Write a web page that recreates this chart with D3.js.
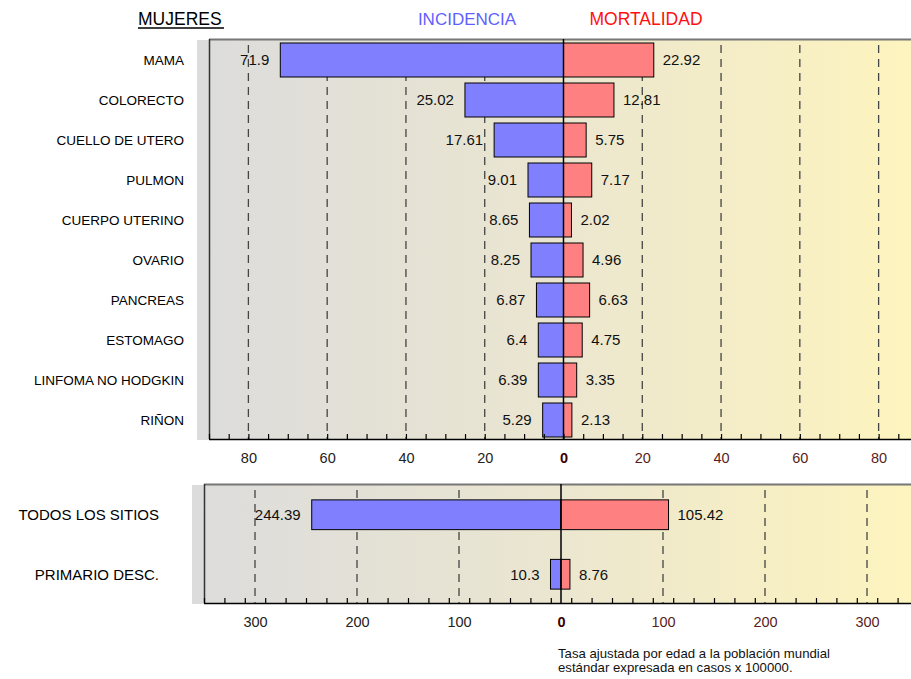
<!DOCTYPE html>
<html><head><meta charset="utf-8">
<script src="https://cdn.jsdelivr.net/npm/d3@7"></script>
<style>
html,body{margin:0;padding:0;background:#fff;}
svg{display:block;font-family:"Liberation Sans",Arial,sans-serif;}
</style></head>
<body>
<svg id="chart" width="911" height="679"></svg>
<script>
// ---- data ----
const sitesTop = ["MAMA","COLORECTO","CUELLO DE UTERO","PULMON","CUERPO UTERINO","OVARIO","PANCREAS","ESTOMAGO","LINFOMA NO HODGKIN","RIÑON"];
const incidenceTop = [71.9,25.02,17.61,9.01,8.65,8.25,6.87,6.4,6.39,5.29];
const mortalityTop = [22.92,12.81,5.75,7.17,2.02,4.96,6.63,4.75,3.35,2.13];
const sitesBottom = ["TODOS LOS SITIOS","PRIMARIO DESC."];
const incidenceBottom = [244.39,10.3];
const mortalityBottom = [105.42,8.76];
const ticksTop = [-80,-60,-40,-20,0,20,40,60,80];
const ticksBottom = [-300,-200,-100,0,100,200,300];
const title = "MUJERES", incLabel = "INCIDENCIA", morLabel = "MORTALIDAD";
const note = ["Tasa ajustada por edad a la población mundial","estándar expresada en casos x 100000."];

const svg = d3.select("#chart");
const defs = svg.append("defs");
const grad = defs.append("linearGradient").attr("id","bg").attr("x1","0").attr("x2","1").attr("y1","0").attr("y2","0");
grad.append("stop").attr("offset","0").attr("stop-color","#dcdcdc");
grad.append("stop").attr("offset","0.5").attr("stop-color","#ebe6d0");
grad.append("stop").attr("offset","1").attr("stop-color","#fdf4be");

function panel(cfg){
  const {sites, inc, mor, ticks, xDom, xRange, yRange, pad, minorStep, labelX, labelSize, valSize} = cfg;
  const x = d3.scaleLinear().domain(xDom).range(xRange);
  const y = d3.scaleBand().domain(sites).range(yRange).paddingInner(pad).paddingOuter(pad/2);
  const top = yRange[0]-1, bot = yRange[1]-1, left = xRange[0];
  const g = svg.append("g");
  g.append("rect").attr("x",left-12).attr("y",top+1).attr("width",911-(left-12)).attr("height",bot-top-1).attr("fill","url(#bg)");
  g.append("rect").attr("x",left-12).attr("y",top+1).attr("width",12).attr("height",bot-top).attr("fill","#dcdcdc");
  g.selectAll("line.grid").data(ticks.filter(t=>t!==0)).enter().append("line")
    .attr("x1",d=>x(d)).attr("x2",d=>x(d)).attr("y1",top+6).attr("y2",bot)
    .attr("stroke","#444").attr("stroke-width",1.3).attr("stroke-dasharray","8,6");
  g.append("line").attr("x1",left).attr("x2",911).attr("y1",top+0.5).attr("y2",top+0.5).attr("stroke","#777").attr("stroke-width",2);
  g.append("line").attr("x1",left+0.5).attr("x2",left+0.5).attr("y1",top).attr("y2",bot).attr("stroke","#333").attr("stroke-width",1.5);
  const h = y.bandwidth();
  g.selectAll("rect.inc").data(sites).enter().append("rect")
    .attr("x",(d,i)=>x(-inc[i])).attr("y",d=>y(d)).attr("width",(d,i)=>x(0)-x(-inc[i])).attr("height",h)
    .attr("fill","#8080ff").attr("stroke","#000").attr("stroke-width",1);
  g.selectAll("rect.mor").data(sites).enter().append("rect")
    .attr("x",x(0)).attr("y",d=>y(d)).attr("width",(d,i)=>x(mor[i])-x(0)).attr("height",h)
    .attr("fill","#ff8080").attr("stroke","#000").attr("stroke-width",1);
  g.append("line").attr("x1",x(0)).attr("x2",x(0)).attr("y1",top).attr("y2",bot).attr("stroke","#000").attr("stroke-width",1.5);
  g.selectAll("text.vi").data(sites).enter().append("text")
    .attr("x",(d,i)=>x(-inc[i])-11).attr("y",d=>y(d)+h/2).attr("dy","0.35em")
    .attr("text-anchor","end").attr("font-size",valSize).attr("fill","#111").text((d,i)=>inc[i]);
  g.selectAll("text.vm").data(sites).enter().append("text")
    .attr("x",(d,i)=>x(mor[i])+9).attr("y",d=>y(d)+h/2).attr("dy","0.35em")
    .attr("text-anchor","start").attr("font-size",valSize).attr("fill","#111").text((d,i)=>mor[i]);
  g.selectAll("text.cat").data(sites).enter().append("text")
    .attr("x",labelX).attr("y",d=>y(d)+h/2).attr("dy","0.35em")
    .attr("text-anchor","end").attr("font-size",labelSize).attr("fill","#000").text(d=>d);
  const minor = d3.range(xDom[0], xDom[1]+0.001, minorStep);
  const ax = g.append("g").attr("transform",`translate(0,${bot})`)
    .call(d3.axisBottom(x).tickValues(minor).tickSize(-5).tickFormat(""));
  ax.select(".domain").remove();
  ax.selectAll(".tick line").attr("stroke","#000").attr("stroke-width",1.2);
  g.append("line").attr("x1",left).attr("x2",911).attr("y1",bot+0.5).attr("y2",bot+0.5).attr("stroke","#000").attr("stroke-width",1.5);
  const lab = g.append("g").attr("transform",`translate(0,${bot})`)
    .call(d3.axisBottom(x).tickValues(ticks).tickSize(0).tickPadding(14).tickFormat(d=>Math.abs(d)));
  lab.select(".domain").remove();
  lab.selectAll(".tick text").attr("font-size",14.5).attr("font-family","Liberation Sans, Arial, sans-serif")
    .attr("fill",d=>d<0?"#222":(d===0?"#3a0000":"#5a1c1c")).attr("font-weight",d=>d===0?"bold":"normal");
  return {x,y};
}

panel({sites:sitesTop, inc:incidenceTop, mor:mortalityTop, ticks:ticksTop,
  xDom:[-90,90], xRange:[209,918], yRange:[40,440], pad:0.15, minorStep:5,
  labelX:184, labelSize:13.5, valSize:15});
panel({sites:sitesBottom, inc:incidenceBottom, mor:mortalityBottom, ticks:ticksBottom,
  xDom:[-350,350], xRange:[204,918], yRange:[485,604], pad:0.5, minorStep:20,
  labelX:159, labelSize:15, valSize:15});

svg.append("text").attr("x",138).attr("y",25).attr("font-size",17.5).attr("fill","#000").text(title);
svg.append("line").attr("x1",138).attr("x2",224).attr("y1",28).attr("y2",28).attr("stroke","#000").attr("stroke-width",1.5);
svg.append("text").attr("x",467).attr("y",25).attr("text-anchor","middle").attr("font-size",17).attr("fill","#5f5fff").text(incLabel);
svg.append("text").attr("x",646).attr("y",25).attr("text-anchor","middle").attr("font-size",17.5).attr("fill","#ff1010").text(morLabel);
svg.selectAll("text.note").data(note).enter().append("text")
  .attr("x",558).attr("y",(d,i)=>658+i*14).attr("font-size",13.2).attr("fill","#111").text(d=>d);
</script>
</body></html>
